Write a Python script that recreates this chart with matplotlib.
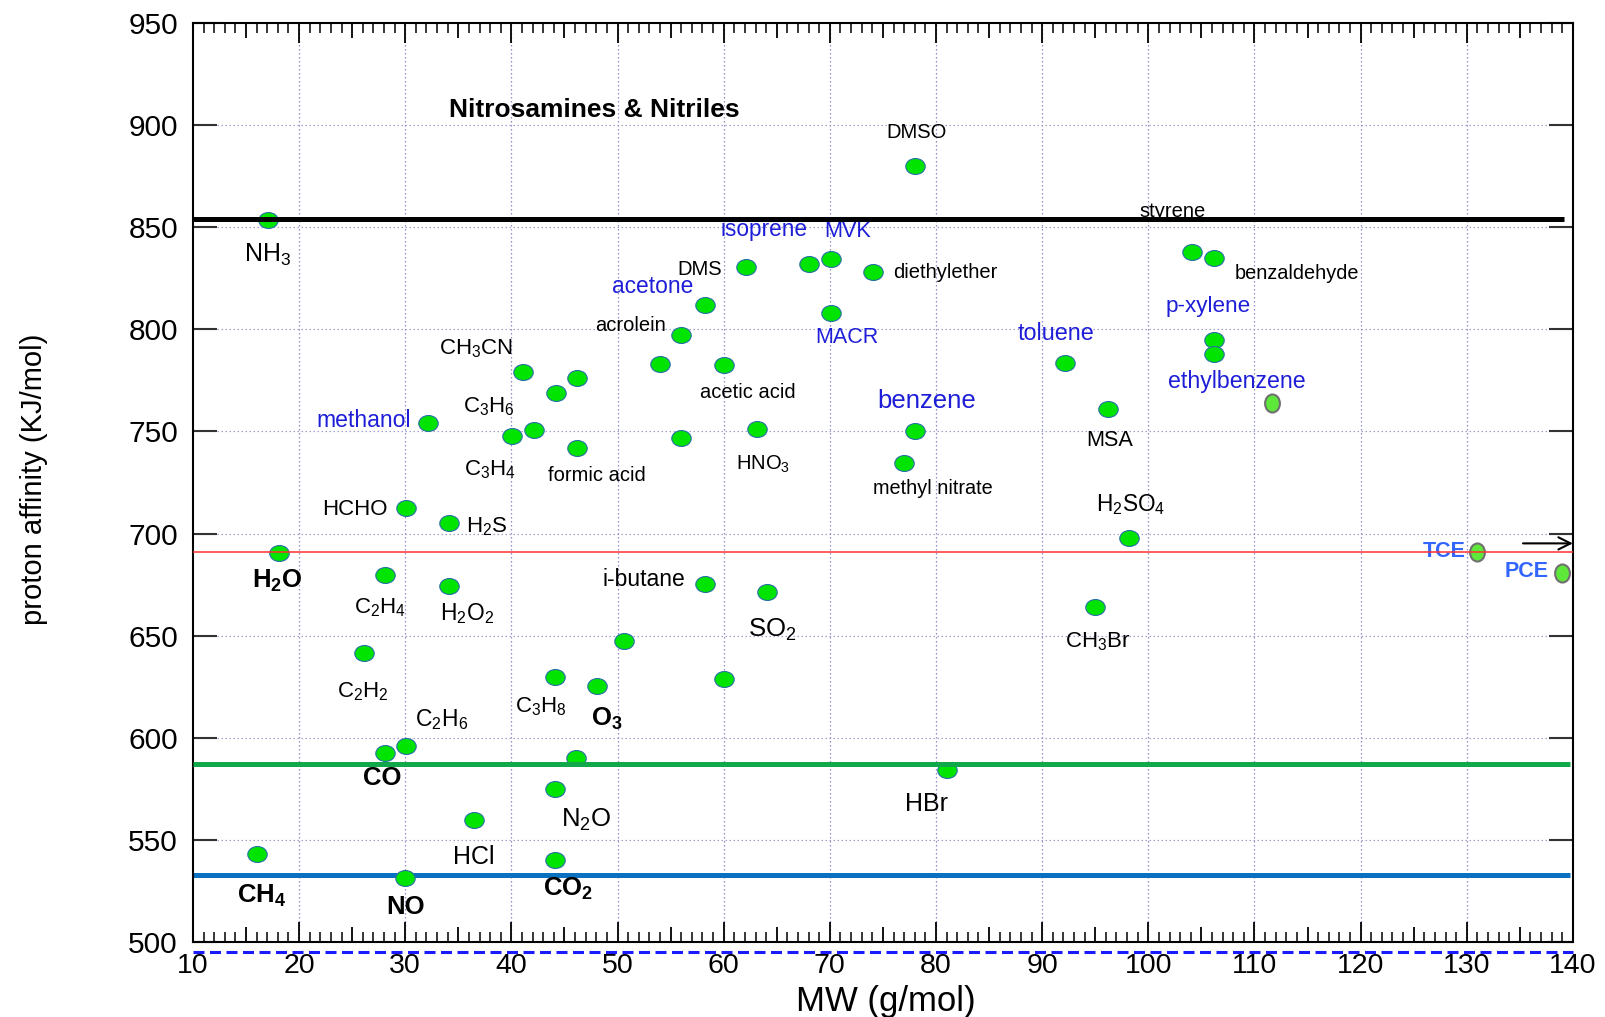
import numpy as np
import matplotlib
matplotlib.use("Agg")
import matplotlib.pyplot as plt
from matplotlib.path import Path
from matplotlib.transforms import Affine2D

plt.rcParams['font.family'] = 'Liberation Sans'
plt.rcParams['mathtext.fontset'] = 'custom'
plt.rcParams['mathtext.rm'] = 'Liberation Sans'
plt.rcParams['mathtext.it'] = 'Liberation Sans:italic'
plt.rcParams['mathtext.bf'] = 'Liberation Sans:bold'
plt.rcParams['mathtext.default'] = 'regular'

# molecular weight (g/mol) and proton affinity (kJ/mol)
mw = [17.1, 18.1, 16.0, 30.0, 28.1, 30.1, 26.1, 28.1, 30.1, 34.1, 34.1, 32.1,
      36.5, 44.1, 44.1, 44.1, 48.1, 46.1, 50.6, 60.0, 58.2, 64.1, 40.1, 42.1,
      41.1, 44.2, 46.2, 46.2, 54.0, 56.0, 56.0, 58.2, 60.0, 63.1, 62.1, 68.0,
      70.1, 70.1, 74.1, 78.0, 78.0, 77.0, 81.0, 92.2, 96.2, 98.2, 95.0, 104.1,
      106.2, 106.2, 106.2]
pa = [853.5, 690.5, 543.0, 531.6, 592.7, 596.2, 641.3, 679.9, 712.5, 705.0,
      674.4, 754.2, 560.0, 540.0, 575.0, 629.8, 625.3, 590.0, 647.5, 628.8,
      675.5, 671.6, 747.8, 750.7, 779.2, 769.0, 776.3, 742.0, 782.8, 747.0,
      797.0, 811.8, 782.5, 751.0, 830.3, 831.8, 834.3, 808.2, 828.0, 880.0,
      750.0, 734.6, 584.0, 783.7, 761.0, 698.0, 664.0, 837.9, 834.8, 795.0,
      788.0]

# chlorinated / aromatic compounds shown with grey outline
mw_cl = [111.7, 131.0, 139.0]
pa_cl = [764.0, 690.8, 680.8]

# reference proton affinities drawn as horizontal lines
pa_black = 854.0
pa_red = 690.8
pa_green = 587.0
pa_blue = 532.8
pa_dash = 495.2

xticks = np.arange(10, 141, 5)
yticks = np.arange(500, 951, 50)

blue = '#1e1ed8'
# text, x, y, size, color, weight
labels = [
    (r'NH$_3$', 17.0, 836.4, 18, 'black', 'normal'),
    ('DMSO', 78.2, 896.5, 14.5, 'black', 'normal'),
    ('styrene', 102.3, 857.5, 14.5, 'black', 'normal'),
    ('isoprene', 63.8, 849.0, 16.3, blue, 'normal'),
    ('MVK', 71.7, 848.0, 15.6, blue, 'normal'),
    ('DMS', 57.7, 829.4, 14.5, 'black', 'normal'),
    ('diethylether', 80.9, 828.0, 14.5, 'black', 'normal'),
    ('acetone', 53.3, 820.9, 16.4, blue, 'normal'),
    ('benzaldehyde', 114.0, 827.4, 14.3, 'black', 'normal'),
    ('p-xylene', 105.6, 811.3, 16.2, blue, 'normal'),
    ('acrolein', 51.2, 801.8, 14.5, 'black', 'normal'),
    ('MACR', 71.6, 795.8, 15.5, blue, 'normal'),
    ('toluene', 91.3, 798.0, 16.8, blue, 'normal'),
    (r'CH$_3$CN', 36.7, 790.5, 16, 'black', 'normal'),
    ('ethylbenzene', 108.3, 774.7, 16.7, blue, 'normal'),
    (r'C$_3$H$_6$', 37.9, 762.0, 16, 'black', 'normal'),
    ('acetic acid', 62.3, 769.3, 14.5, 'black', 'normal'),
    ('benzene', 79.1, 764.8, 18.5, blue, 'normal'),
    ('methanol', 26.1, 755.3, 16.6, blue, 'normal'),
    ('MSA', 96.4, 745.6, 15.6, 'black', 'normal'),
    (r'C$_3$H$_4$', 38.0, 731.2, 16, 'black', 'normal'),
    ('formic acid', 48.1, 728.2, 14.5, 'black', 'normal'),
    (r'HNO$_3$', 63.7, 733.7, 14.5, 'black', 'normal'),
    ('methyl nitrate', 79.7, 722.1, 14.3, 'black', 'normal'),
    ('HCHO', 25.3, 712.0, 16, 'black', 'normal'),
    (r'H$_2$S', 37.7, 703.5, 16, 'black', 'normal'),
    (r'H$_2$SO$_4$', 98.3, 714.0, 16.3, 'black', 'normal'),
    (r'$\mathbf{H_2O}$', 17.9, 677.0, 18.5, 'black', 'bold'),
    ('TCE', 127.9, 691.3, 15.5, '#3366ff', 'bold'),
    ('PCE', 135.6, 681.3, 15.5, '#3366ff', 'bold'),
    ('i-butane', 52.5, 677.5, 16.5, 'black', 'normal'),
    (r'C$_2$H$_4$', 27.6, 663.5, 16, 'black', 'normal'),
    (r'H$_2$O$_2$', 35.8, 660.6, 16.4, 'black', 'normal'),
    (r'SO$_2$', 64.6, 653.0, 18.5, 'black', 'normal'),
    (r'CH$_3$Br', 95.2, 647.0, 16, 'black', 'normal'),
    (r'C$_2$H$_2$', 26.0, 622.6, 16, 'black', 'normal'),
    (r'C$_2$H$_6$', 33.4, 609.1, 16.5, 'black', 'normal'),
    (r'C$_3$H$_8$', 42.8, 615.1, 16, 'black', 'normal'),
    (r'$\mathbf{O_3}$', 49.0, 609.5, 18.5, 'black', 'bold'),
    ('CO', 27.8, 580.2, 18.5, 'black', 'bold'),
    ('HBr', 79.1, 567.6, 18, 'black', 'normal'),
    (r'N$_2$O', 47.0, 559.6, 18.5, 'black', 'normal'),
    ('HCl', 36.5, 541.6, 18, 'black', 'normal'),
    (r'$\mathbf{CH_4}$', 16.5, 522.6, 18.5, 'black', 'bold'),
    ('NO', 30.0, 517.0, 18.5, 'black', 'bold'),
    (r'$\mathbf{CO_2}$', 45.3, 525.9, 18.5, 'black', 'bold'),
]

fig = plt.figure(figsize=(16.05, 10.17), dpi=100)
ax = fig.add_axes([0.1202, 0.0737, 0.8598, 0.9037])
ax.set_xlim(10, 140)
ax.set_ylim(500, 950)

# dotted grid
for v in range(20, 140, 10):
    ax.axvline(v, color='#8c8cc8', lw=0.9, ls=(0, (1.2, 2)), zorder=0)
for v in range(550, 950, 50):
    ax.axhline(v, color='#a0a0cc', lw=0.9, ls=(0, (1.2, 2)), zorder=0)

# reference lines
ax.plot([10, 139.2], [pa_black, pa_black], color='black', lw=3.6, zorder=5,
        solid_capstyle='butt')
ax.plot([10, 140], [pa_red, pa_red], color='#ff3030', lw=1.1, zorder=5)
ax.plot([10, 139.7], [pa_green, pa_green], color='#10a84a', lw=3.6, zorder=5,
        solid_capstyle='butt')
ax.plot([10, 139.7], [pa_blue, pa_blue], color='#0a70c0', lw=3.6, zorder=2,
        solid_capstyle='butt')
ax.plot([10, 140], [pa_dash, pa_dash], color='#1a1aff', lw=2.2,
        ls=(0, (3.6, 1.8)), clip_on=False)

# elliptic markers
circ = Path.unit_circle()
wide = circ.transformed(Affine2D().scale(1, 0.82))
tall = circ.transformed(Affine2D().scale(0.82, 1))
ax.plot(mw, pa, ls='none', marker=wide, ms=14, mfc='#00e400',
        mec='#2a70a8', mew=0.8, zorder=3)
ax.plot(mw_cl, pa_cl, ls='none', marker=tall, ms=13, mfc='#5ee83a',
        mec='#707070', mew=1.5, zorder=3)

for txt, x, y, size, col, wt in labels:
    ax.text(x, y, txt, fontsize=size, color=col, fontweight=wt,
            ha='center', va='center', zorder=4)

ax.text(47.8, 907.6, 'Nitrosamines & Nitriles', fontsize=19,
        fontweight='bold', ha='center', va='center')

# off-scale arrow for PCE
ax.annotate('', xy=(140, 695.2), xytext=(135.3, 695.2),
            arrowprops=dict(arrowstyle='->', lw=1.5, color='black',
                            mutation_scale=22, shrinkA=0, shrinkB=0))

# ticks
ax.set_xticks(xticks)
ax.set_xticklabels([str(v) if v % 10 == 0 else '' for v in xticks])
ax.set_xticks(np.arange(10, 141, 1), minor=True)
ax.set_yticks(yticks)
ax.tick_params(axis='x', which='major', direction='in', top=True, bottom=True,
               length=14.4, width=1.3, color='black', labelsize=20.5, pad=8)
ax.tick_params(axis='x', which='minor', direction='in', top=True, bottom=True,
               length=7.2, width=1.1, color='black')
ax.tick_params(axis='y', direction='in', left=True, right=True, length=17.3,
               width=1.5, color='#333333', labelsize=21.5, pad=10.8)
for tick, v in zip(ax.xaxis.get_major_ticks(), xticks):
    if v % 10:
        tick.tick1line.set_markersize(10.8)
        tick.tick2line.set_markersize(10.8)

for sp in ax.spines.values():
    sp.set_linewidth(1.5)
    sp.set_color('black')

fig.text(0.0212, 0.5284, 'proton affinity (KJ/mol)', rotation=90,
         fontsize=21, ha='center', va='center')
fig.text(0.5517, 0.0157, 'MW (g/mol)', fontsize=25, ha='center', va='center')

fig.savefig('out.png', dpi=100)
